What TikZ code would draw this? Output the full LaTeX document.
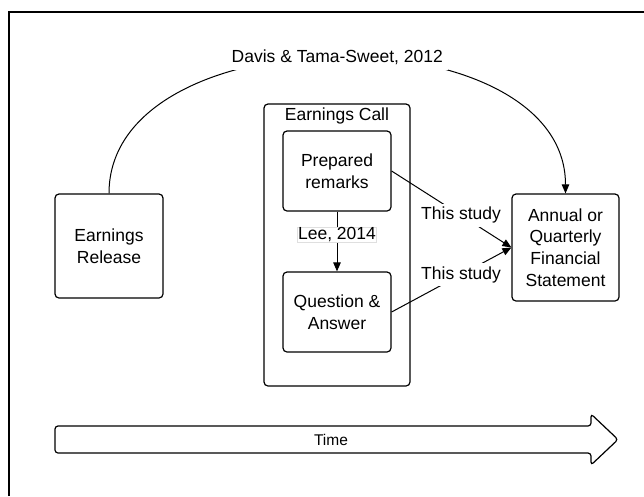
\documentclass[tikz,border=0pt]{standalone}
\usepackage{fontspec}
\setmainfont{Liberation Sans}
\usetikzlibrary{arrows.meta}
\begin{document}
\begin{tikzpicture}[x=1pt,y=-1pt,
  txt/.style={font=\fontsize{17.5}{21.6}\selectfont},
  box/.style={txt, draw, line width=1.2pt, rounded corners=4pt, align=center, inner sep=0pt},
  lbl/.style={txt, fill=white, inner sep=3.5pt},
  conn/.style={line width=1pt, -{Triangle[length=9pt,width=7.5pt]}},
]
\useasboundingbox (0,0) rectangle (644,496);
% outer frame
\draw[line width=1.2pt] (9,496) -- (9,12) -- (644,12);
% boxes
\node[box, minimum width=108pt, minimum height=104pt] (rel) at (109,246) {Earnings\\Release};
\node[box, minimum width=146pt, minimum height=282pt] (ec) at (337,245) {};
\node[txt] (ectitle) at (337,116) {Earnings Call};
\node[box, minimum width=108pt, minimum height=80pt] (prep) at (337,171) {Prepared\\remarks};
\node[box, minimum width=108pt, minimum height=80pt] (qa) at (337,312) {Question \&\\Answer};
\node[box, minimum width=107pt, minimum height=107pt] (ann) at (565.5,247.5) {Annual or\\Quarterly\\Financial\\Statement};
% connectors
\draw[conn] (rel.north) .. controls (109,12) and (565.5,12) .. node[lbl, pos=0.5, inner sep=5pt] (davis) {Davis \& Tama-Sweet, 2012} (ann.north);
\draw[conn] (prep.south) -- node[lbl, pos=0.39, draw=gray!25, line width=0.6pt, inner sep=0.5pt] (lee) {Lee, 2014} (qa.north);
\draw[conn] (prep.east) -- node[lbl, pos=0.58] (s1) {This study} (ann.west);
\draw[conn] (qa.east) -- node[lbl, pos=0.58] (s2) {This study} (ann.west);
% time arrow
\draw[line width=1.2pt, rounded corners=3pt] (55,426) -- (591,426) -- (591,414) -- (618,439.5) -- (591,465) -- (591,453) -- (55,453) -- cycle;
\node[font=\fontsize{15.5}{18}\selectfont] (time) at (331,439.5) {Time};
\end{tikzpicture}
\end{document}
